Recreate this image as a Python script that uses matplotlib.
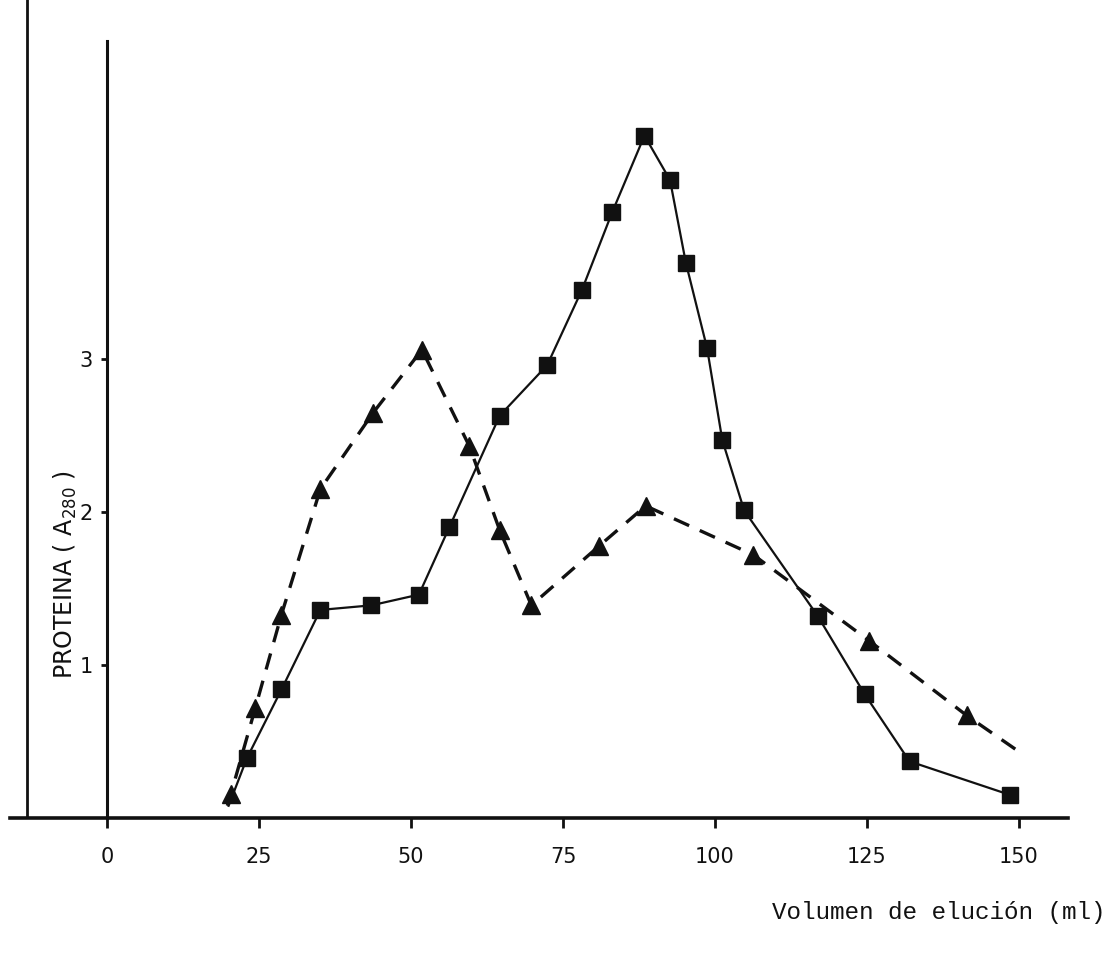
import matplotlib
matplotlib.use("Agg")
import matplotlib.pyplot as plt

# Elution volume (ml) and protein absorbance at 280 nm
vol_squares = [20.0, 23.0, 28.7, 35.1, 43.5, 51.3, 56.3, 64.6, 72.4, 78.1, 83.1,
               88.4, 92.6, 95.2, 98.7, 101.2, 104.8, 116.9, 124.6, 132.0, 148.6]
a280_squares = [0.08, 0.39, 0.84, 1.36, 1.39, 1.46, 1.90, 2.63, 2.96, 3.45, 3.96,
                4.46, 4.17, 3.63, 3.07, 2.47, 2.01, 1.32, 0.81, 0.37, 0.15]

vol_triangles = [19.8, 20.4, 24.4, 28.7, 35.1, 43.8, 51.8, 59.6, 64.6, 69.8, 81.0,
                 88.6, 106.3, 125.3, 141.4, 149.4]
a280_triangles = [0.08, 0.16, 0.72, 1.33, 2.15, 2.65, 3.06, 2.43, 1.88, 1.39, 1.78,
                  2.04, 1.72, 1.16, 0.67, 0.45]

x_ticks = [0, 25, 50, 75, 100, 125, 150]
x_ticklabels = ["0", "25", "50", "75", "100", "125", "150"]
y_ticks = [1, 2, 3]
y_ticklabels = ["1", "2", "3"]

W, H = 1111, 959
fig = plt.figure(figsize=(W / 100, H / 100), dpi=100)
ax = fig.add_axes([0, 0, 1, 1])

# pixel-to-data calibration of the drawing
x0_px, x_scale = 107.0, 6.08
y0_px, y_scale = 818.0, 153.0
ax.set_xlim(-x0_px / x_scale, (W - x0_px) / x_scale)
ax.set_ylim((y0_px - H) / y_scale, y0_px / y_scale)

ink = "#111111"

# curves
ax.plot(vol_squares, a280_squares, color=ink, lw=1.6, marker="s", ms=12,
        mfc=ink, mec=ink, markevery=list(range(1, len(vol_squares))), zorder=3)
ax.plot(vol_triangles, a280_triangles, color=ink, lw=2.4, ls=(0, (5, 3.5)),
        marker="^", ms=13, mfc=ink, mec=ink,
        markevery=list(range(1, len(vol_triangles) - 1)), zorder=3)

# axes drawn as ruled lines
for s in ["top", "right"]:
    ax.spines[s].set_visible(False)
ax.spines["left"].set_position(("data", 0))
ax.spines["bottom"].set_position(("data", 0))
ax.spines["left"].set_bounds(0, 5.08)
ax.spines["bottom"].set_bounds(-16, 158)
ax.spines["left"].set_linewidth(2.2)
ax.spines["bottom"].set_linewidth(2.6)
ax.spines["left"].set_color(ink)
ax.spines["bottom"].set_color(ink)

# page border line on the left
ax.plot([-13.2, -13.2], [0, 5.4], color=ink, lw=2.0, solid_capstyle="butt")

ax.set_xticks(x_ticks)
ax.set_xticklabels(x_ticklabels)
ax.set_yticks(y_ticks)
ax.set_yticklabels(y_ticklabels)
ax.tick_params(axis="x", direction="out", length=7, width=2, color=ink,
               pad=14, labelsize=15, labelcolor=ink)
ax.tick_params(axis="y", direction="out", length=4, width=2, color=ink,
               pad=6, labelsize=15, labelcolor=ink)

fig.text(65 / W, 1 - 575 / H, "PROTEINA ( A$_{280}$ )", rotation=90,
         ha="center", va="center", fontsize=17, color=ink)
fig.text(1105 / W, 1 - 912 / H, "Volumen de elución (ml)", ha="right",
         va="center", fontsize=17.5, family="Liberation Mono", color=ink)

fig.savefig("out.png", dpi=100, facecolor="white")
